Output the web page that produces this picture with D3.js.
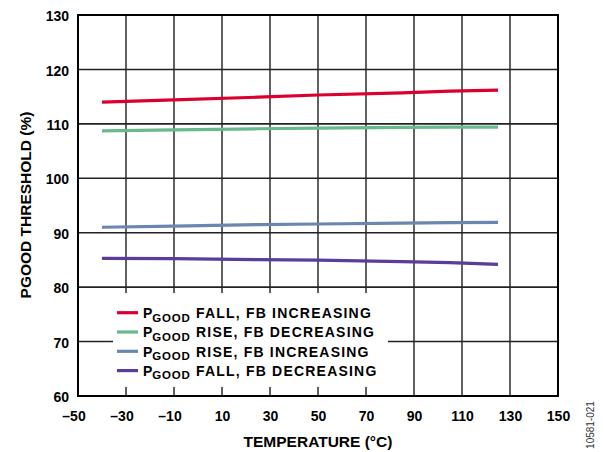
<!DOCTYPE html>
<html><head><meta charset="utf-8">
<script src="https://cdn.jsdelivr.net/npm/d3@7"></script>
<style>body{margin:0;background:#fff}svg{display:block}text{font-family:"Liberation Sans",Arial,sans-serif;font-weight:bold;fill:#000}</style>
</head><body>
<svg id="c" width="605" height="452"></svg>
<script>
const temps = [-40, -10, 25, 50, 85, 105, 125];
const redFall = [114.0, 114.4, 114.9, 115.3, 115.7, 116.0, 116.2];
const greenRise = [108.7, 108.9, 109.1, 109.2, 109.35, 109.4, 109.4];
const blueRise = [91.0, 91.2, 91.5, 91.6, 91.75, 91.85, 91.9];
const purpleFall = [85.3, 85.25, 85.05, 84.95, 84.7, 84.5, 84.2];
const xTicks = [-50, -30, -10, 10, 30, 50, 70, 90, 110, 130, 150];
const yTicks = [60, 70, 80, 90, 100, 110, 120, 130];
const seriesNames = ["FALL, FB INCREASING", "RISE, FB DECREASING", "RISE, FB INCREASING", "FALL, FB DECREASING"];
const seriesColors = ["#dc0030", "#68b98b", "#6c86b2", "#5a3c9a"];
const seriesVals = [redFall, greenRise, blueRise, purpleFall];

const svg = d3.select("#c");
const L = 78, R = 558, T = 15, B = 396;
const x = d3.scaleLinear().domain([-50, 150]).range([L, R]);
const y = d3.scaleLinear().domain([60, 130]).range([B, T]);

// grid
const g = svg.append("g");
g.selectAll("line.v").data(xTicks.slice(1, -1)).join("line")
  .attr("x1", d => x(d)).attr("x2", d => x(d)).attr("y1", T).attr("y2", B)
  .attr("stroke", "#3a3a3a").attr("stroke-width", 1.6);
g.selectAll("line.h").data(yTicks.slice(1, -1)).join("line")
  .attr("x1", L).attr("x2", R).attr("y1", d => y(d)).attr("y2", d => y(d))
  .attr("stroke", "#222").attr("stroke-width", 1.6);

// lines
const line = d3.line().x((d, i) => x(temps[i])).y(d => y(d));
seriesVals.forEach((vals, k) => {
  svg.append("path").datum(vals).attr("d", line).attr("fill", "none")
    .attr("stroke", seriesColors[k]).attr("stroke-width", 3.2);
});

// legend
svg.append("rect").attr("x", 113).attr("y", 293).attr("width", 275).attr("height", 94).attr("fill", "#fff");
const lg = svg.append("g");
seriesNames.forEach((nm, k) => {
  const by = 318 + k * 19.3;
  lg.append("line").attr("x1", 117).attr("x2", 138).attr("y1", by - 5.3).attr("y2", by - 5.3)
    .attr("stroke", seriesColors[k]).attr("stroke-width", 3.2);
  const t = lg.append("text").attr("x", 143).attr("y", by).style("font-size", "14px");
  t.append("tspan").text("P");
  t.append("tspan").attr("dy", 3.5).style("font-size", "11.5px").style("letter-spacing", "0.8px").text("GOOD");
  t.append("tspan").attr("x", 196).attr("y", by).style("letter-spacing", "1.2px").text(nm);
});

// frame
svg.append("rect").attr("x", L).attr("y", T).attr("width", R - L).attr("height", B - T)
  .attr("fill", "none").attr("stroke", "#000").attr("stroke-width", 2);

// axes labels
const xa = d3.axisBottom(x).tickValues(xTicks).tickSize(0).tickPadding(0)
  .tickFormat(d => d < 0 ? "\u2013" + Math.abs(d) : String(d));
const xg = svg.append("g").attr("transform", `translate(0,${B})`).call(xa);
xg.select(".domain").remove();
xg.selectAll("text").attr("dy", null).attr("y", 25).style("font-size", "14px")
  .attr("dx", d => d < 0 ? -4.5 : 0);

const ya = d3.axisLeft(y).tickValues(yTicks).tickSize(0).tickPadding(0);
const yg = svg.append("g").attr("transform", `translate(69,0)`).call(ya);
yg.select(".domain").remove();
yg.selectAll("text").attr("dy", "0.4em").attr("x", 0).style("font-size", "14px");

svg.append("text").attr("x", (L + R) / 2).attr("y", 447).attr("text-anchor", "middle")
  .style("font-size", "15.5px").text("TEMPERATURE (\u00B0C)");
svg.append("text").attr("transform", "translate(31,205) rotate(-90)").attr("text-anchor", "middle")
  .style("font-size", "15.5px").text("PGOOD THRESHOLD (%)");
svg.append("text").attr("transform", "translate(594,425) rotate(-90)").attr("text-anchor", "middle")
  .style("font-size", "10px").style("font-weight", "normal").style("fill", "#333").text("10581-021");
</script>
</body></html>
